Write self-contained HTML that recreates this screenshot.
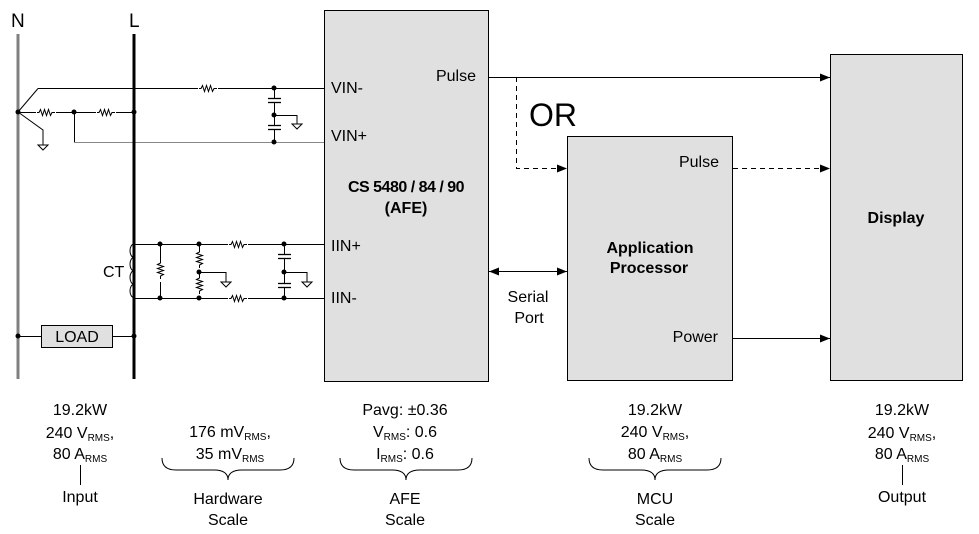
<!DOCTYPE html>
<html><head><style>html,body{margin:0;padding:0;background:#fff}svg{display:block}text{font-family:"Liberation Sans",Arial,sans-serif;fill:#000}</style></head><body>
<svg width="979" height="534" viewBox="0 0 979 534" xmlns="http://www.w3.org/2000/svg">
<defs>
<marker id="a" markerWidth="10" markerHeight="8" refX="10" refY="4" orient="auto" markerUnits="userSpaceOnUse"><path d="M0,0L10,4L0,8z" fill="#000"/></marker>
<marker id="b" markerWidth="10" markerHeight="8" refX="0" refY="4" orient="auto" markerUnits="userSpaceOnUse"><path d="M10,0L0,4L10,8z" fill="#000"/></marker>
<g id="r"><path d="M-8,0h2l1.5,-3l2,6l2,-6l2,6l2,-6l2,6l1.5,-3h3" fill="none" stroke="#000" stroke-width="1"/></g>
<g id="rv"><path d="M0,-10v2l-3,1.5l6,2l-6,2l6,2l-6,2l6,2l-3,1.5v3" fill="none" stroke="#000" stroke-width="1"/></g>
<g id="gnd"><path d="M-5,0h10l-5,5z" fill="#fff" stroke="#000" stroke-width="1"/></g>
</defs>
<!-- boxes -->
<rect x="324.5" y="10.5" width="164" height="371" fill="#e0e0e0" stroke="#000"/>
<rect x="567.5" y="136.5" width="165" height="244" fill="#e0e0e0" stroke="#000"/>
<rect x="830.5" y="54.5" width="132" height="326" fill="#e0e0e0" stroke="#000"/>
<!-- N and L -->
<text x="11" y="27" font-size="19">N</text>
<text x="129" y="27" font-size="19">L</text>
<line x1="18" y1="34" x2="18" y2="379" stroke="#808080" stroke-width="3"/>
<g stroke="#000" stroke-width="1" fill="none">
<line x1="38" y1="88.5" x2="324" y2="88.5"/>
<line x1="18" y1="112" x2="38" y2="88.5"/>
<line x1="18" y1="112.5" x2="134" y2="112.5"/>
<polyline points="18,112 43,130 43,145"/>
<line x1="74.5" y1="112" x2="74.5" y2="142"/>
<line x1="274.5" y1="88" x2="274.5" y2="142"/>
<polyline points="274,115.5 297,115.5 297,124"/>
<line x1="134" y1="244.5" x2="324" y2="244.5"/>
<line x1="134" y1="298.5" x2="324" y2="298.5"/>
<line x1="160.5" y1="244" x2="160.5" y2="298"/>
<line x1="199.5" y1="244" x2="199.5" y2="298"/>
<polyline points="199,272.5 226,272.5 226,282"/>
<line x1="284.5" y1="244" x2="284.5" y2="298"/>
<polyline points="284,272.5 307,272.5 307,282"/>
<line x1="18" y1="336.5" x2="134" y2="336.5"/>
<path d="M134,244 a4,6.7 0 0 0 0,13.4 a4,6.7 0 0 0 0,13.4 a4,6.7 0 0 0 0,13.4 a4,6.7 0 0 0 0,13.4"/>
</g>
<line x1="74" y1="142.5" x2="324" y2="142.5" stroke="#888" stroke-width="1"/>
<line x1="134" y1="34" x2="134" y2="379" stroke="#000" stroke-width="3"/>
<!-- resistors -->
<rect x="198" y="84" width="20" height="9" fill="#fff"/><use href="#r" x="207" y="88.5"/>
<rect x="36" y="108" width="20" height="9" fill="#fff"/><use href="#r" x="45" y="112.5"/>
<rect x="96" y="108" width="20" height="9" fill="#fff"/><use href="#r" x="105" y="112.5"/>
<rect x="228" y="240" width="20" height="9" fill="#fff"/><use href="#r" x="237" y="244.5"/>
<rect x="228" y="294" width="20" height="9" fill="#fff"/><use href="#r" x="237" y="298.5"/>
<rect x="156" y="262" width="9" height="20" fill="#fff"/><use href="#rv" x="160.5" y="271"/>
<rect x="195" y="250" width="9" height="20" fill="#fff"/><use href="#rv" x="199.5" y="260"/>
<rect x="195" y="276" width="9" height="20" fill="#fff"/><use href="#rv" x="199.5" y="286"/>
<!-- caps -->
<g stroke="#000" stroke-width="1.3">
<rect x="268" y="98" width="13" height="5" fill="#fff" stroke="none"/>
<line x1="268" y1="98.5" x2="281" y2="98.5"/><line x1="268" y1="102.5" x2="281" y2="102.5"/>
<rect x="268" y="125" width="13" height="5" fill="#fff" stroke="none"/>
<line x1="268" y1="125.5" x2="281" y2="125.5"/><line x1="268" y1="129.5" x2="281" y2="129.5"/>
<rect x="278" y="254" width="13" height="5" fill="#fff" stroke="none"/>
<line x1="278" y1="254.5" x2="291" y2="254.5"/><line x1="278" y1="258.5" x2="291" y2="258.5"/>
<rect x="278" y="283" width="13" height="5" fill="#fff" stroke="none"/>
<line x1="278" y1="283.5" x2="291" y2="283.5"/><line x1="278" y1="287.5" x2="291" y2="287.5"/>
</g>
<use href="#gnd" x="43" y="145"/><use href="#gnd" x="297" y="124"/>
<use href="#gnd" x="226" y="282"/><use href="#gnd" x="307" y="282"/>
<!-- dots -->
<g fill="#000">
<circle cx="18" cy="112" r="2.5"/><circle cx="74" cy="112" r="2.5"/><circle cx="134" cy="112" r="2.5"/>
<circle cx="274" cy="88" r="2.5"/><circle cx="274" cy="115" r="2.5"/><circle cx="274" cy="142" r="2.5"/>
<circle cx="160" cy="244" r="2.5"/><circle cx="199" cy="244" r="2.5"/><circle cx="284" cy="244" r="2.5"/>
<circle cx="160" cy="298" r="2.5"/><circle cx="199" cy="298" r="2.5"/><circle cx="284" cy="298" r="2.5"/>
<circle cx="199" cy="272" r="2.5"/><circle cx="284" cy="272" r="2.5"/>
<circle cx="18" cy="336" r="2.5"/><circle cx="134" cy="336" r="2.5"/>
</g>
<text x="103" y="277" font-size="16">CT</text>
<rect x="41.5" y="325.5" width="71" height="22" fill="#e0e0e0" stroke="#000"/>
<text x="77" y="342" font-size="16" text-anchor="middle">LOAD</text>
<!-- AFE text -->
<g font-size="16">
<text x="331" y="93">VIN-</text>
<text x="331" y="141">VIN+</text>
<text x="331" y="251">IIN+</text>
<text x="331" y="303">IIN-</text>
<text x="476" y="81" text-anchor="end">Pulse</text>
<text x="406" y="192" text-anchor="middle" font-weight="bold" letter-spacing="-0.5">CS 5480 / 84 / 90</text>
<text x="406" y="213" text-anchor="middle" font-weight="bold">(AFE)</text>
<text x="719" y="167" text-anchor="end">Pulse</text>
<text x="718" y="342" text-anchor="end">Power</text>
<text x="650" y="253" text-anchor="middle" font-weight="bold">Application</text>
<text x="649" y="273" text-anchor="middle" font-weight="bold">Processor</text>
<text x="896" y="223" text-anchor="middle" font-weight="bold">Display</text>
<text x="528" y="302" text-anchor="middle">Serial</text>
<text x="529" y="323" text-anchor="middle">Port</text>
</g>
<text x="529" y="126" font-size="32">OR</text>
<!-- connectors -->
<g stroke="#000" stroke-width="1" fill="none">
<line x1="489" y1="77.5" x2="830" y2="77.5" marker-end="url(#a)"/>
<polyline points="516.5,77 516.5,168.5 567,168.5" stroke-dasharray="5,4" marker-end="url(#a)"/>
<line x1="733" y1="168.5" x2="830" y2="168.5" stroke-dasharray="5,4" marker-end="url(#a)"/>
<line x1="733" y1="338.5" x2="830" y2="338.5" marker-end="url(#a)"/>
<line x1="489" y1="271.5" x2="567" y2="271.5" marker-start="url(#b)" marker-end="url(#a)"/>
</g>
<!-- bottom annotations -->
<g font-size="16" text-anchor="middle">
<text x="80" y="415">19.2kW</text>
<text x="80" y="438">240 V<tspan font-size="10" dy="3">RMS</tspan><tspan dy="-3">,</tspan></text>
<text x="80" y="459">80 A<tspan font-size="10" dy="3">RMS</tspan></text>
<text x="80" y="502">Input</text>
<text x="230" y="437">176 mV<tspan font-size="10" dy="3">RMS</tspan><tspan dy="-3">,</tspan></text>
<text x="230" y="459">35 mV<tspan font-size="10" dy="3">RMS</tspan></text>
<text x="228" y="504">Hardware</text>
<text x="228" y="525">Scale</text>
<text x="405" y="415">Pavg: ±0.36</text>
<text x="405" y="437">V<tspan font-size="10" dy="3">RMS</tspan><tspan dy="-3">: 0.6</tspan></text>
<text x="405" y="459">I<tspan font-size="10" dy="3">RMS</tspan><tspan dy="-3">: 0.6</tspan></text>
<text x="405" y="504">AFE</text>
<text x="405" y="525">Scale</text>
<text x="655" y="415">19.2kW</text>
<text x="655" y="437">240 V<tspan font-size="10" dy="3">RMS</tspan><tspan dy="-3">,</tspan></text>
<text x="655" y="459">80 A<tspan font-size="10" dy="3">RMS</tspan></text>
<text x="655" y="504">MCU</text>
<text x="655" y="525">Scale</text>
<text x="902" y="415">19.2kW</text>
<text x="902" y="438">240 V<tspan font-size="10" dy="3">RMS</tspan><tspan dy="-3">,</tspan></text>
<text x="902" y="459">80 A<tspan font-size="10" dy="3">RMS</tspan></text>
<text x="902" y="502">Output</text>
</g>
<g stroke="#000" stroke-width="1" fill="none">
<line x1="80.5" y1="465" x2="80.5" y2="485"/>
<line x1="902.5" y1="465" x2="902.5" y2="485"/>
<path d="M162,458 q0,12 14,12 h38 q14,0 14,10 q0,-10 14,-10 h38 q14,0 14,-12"/>
<path d="M340,458 q0,12 14,12 h38 q14,0 14,10 q0,-10 14,-10 h38 q14,0 14,-12"/>
<path d="M589,458 q0,12 14,12 h38 q14,0 14,10 q0,-10 14,-10 h38 q14,0 14,-12"/>
</g>
</svg>
</body></html>
